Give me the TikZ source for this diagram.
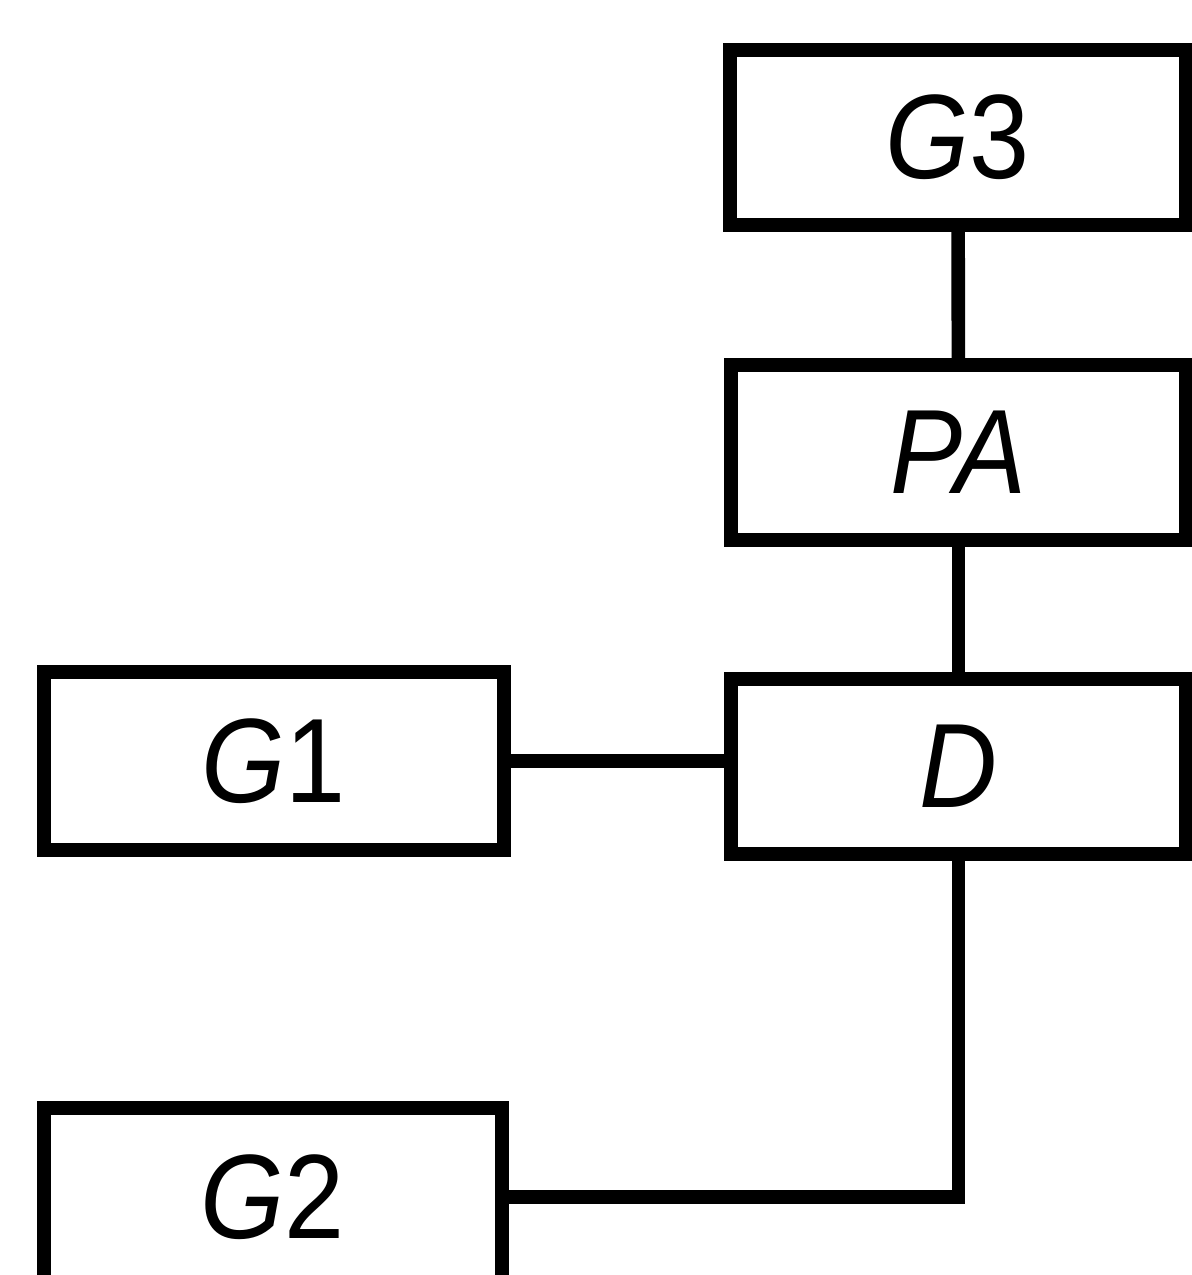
\documentclass[tikz,border=0pt]{standalone}
\usepackage{fontspec}
\setmainfont{Liberation Sans}[FakeStretch=0.9]
\begin{document}
\begin{tikzpicture}[x=0.5pt,y=-0.5pt]
  \tikzset{ blk/.style={draw,black,line width=6.8pt,inner sep=0pt,font=\fontsize{60}{72}\selectfont},
            wire/.style={line width=6.8pt},
  }
  \useasboundingbox (0,0) rectangle (1191,1275);

  \node (g3) at (958,137.5) [blk,minimum width=228pt,minimum height=87.5pt] {\textit{G}3};
  \node (pa) at (958.5,452.5) [blk,minimum width=227.5pt,minimum height=87.5pt] {\textit{PA}};
  \node (d) at (958.5,766.5) [blk,minimum width=227.5pt,minimum height=87.5pt] {\textit{D}};
  \node (g1) at (274,761) [blk,minimum width=230pt,minimum height=89pt] {\textit{G}1};
  \node (g2) at (273,1197) [blk,minimum width=229pt,minimum height=89pt] {\textit{G}2};

  \draw[wire] (g3) -- (pa);
  \draw[wire] (pa) -- (d);
  \draw[wire] (g1.east) -- (g1.east -| d.west);
  \draw[wire] (d.south) |- (g2.east);

\end{tikzpicture}
\end{document}
